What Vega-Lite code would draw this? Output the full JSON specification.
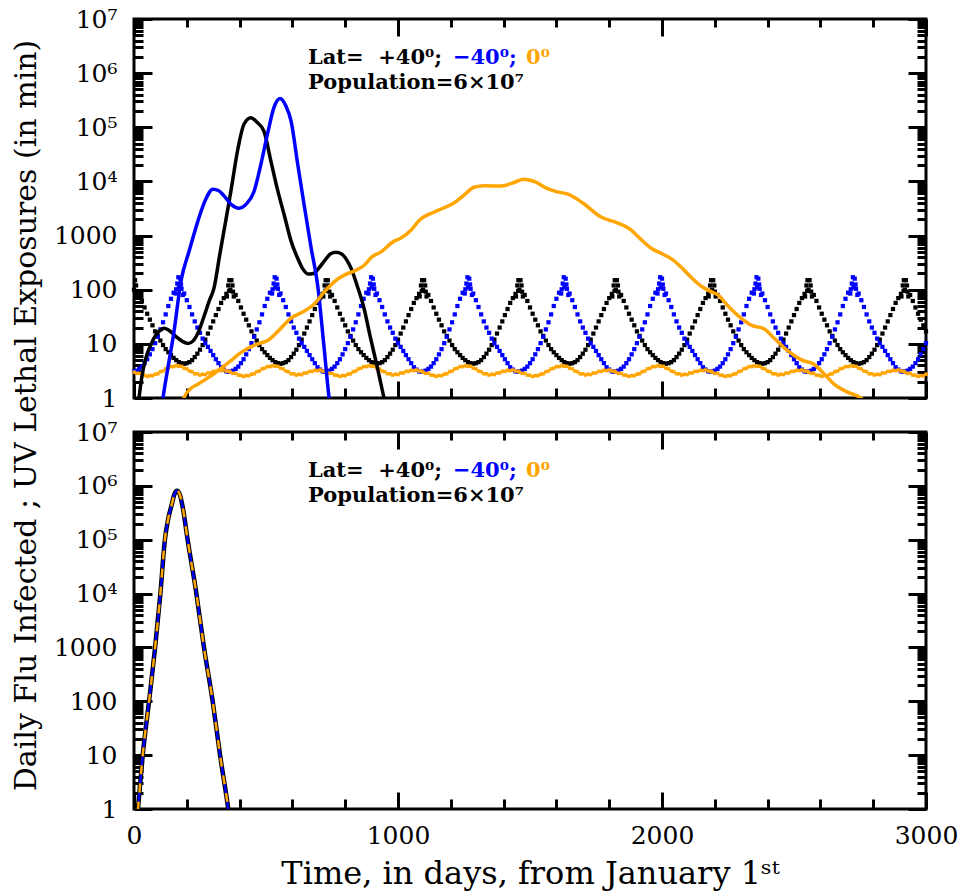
{
"$schema": "https://vega.github.io/schema/vega-lite/v6.json",
"background": "white",
"padding": {"left": 9, "top": 5, "right": 10, "bottom": 5},
"config": {"view": {"stroke": "#000000", "strokeWidth": 3}, "font": "DejaVu Serif", "axis": {"grid": false, "ticks": true, "zindex": 1, "domain": false, "tickColor": "#000000", "tickWidth": 3, "tickOpacity": 1, "title": null}},
"spacing": 34,
"bounds": "flush",
"datasets": {
"uv": [
{"t":0,"n":100,"s":3.1,"e":3.0},{"t":10,"n":92,"s":3.2,"e":2.85},{"t":20,"n":80,"s":3.45,"e":2.85},{"t":30,"n":62,"s":3.8,"e":2.65},{"t":40,"n":47,"s":4.4,"e":2.62},{"t":50,"n":36,"s":5.2,"e":2.5},{"t":60,"n":28,"s":6.4,"e":2.6},{"t":70,"n":22,"s":8,"e":2.58},{"t":80,"n":17,"s":10.3,"e":2.75},{"t":90,"n":14,"s":13.5,"e":2.8},{"t":100,"n":11.5,"s":18.5,"e":3.05},{"t":110,"n":9.5,"s":25,"e":3.15},{"t":120,"n":8,"s":35,"e":3.45},{"t":130,"n":7,"s":50,"e":3.55},{"t":140,"n":6.2,"s":68,"e":3.8},{"t":150,"n":5.5,"s":88,"e":3.8},{"t":160,"n":5,"s":102,"e":3.95},{"t":170,"n":4.6,"s":110,"e":3.85},{"t":180,"n":4.4,"s":104,"e":3.85},{"t":190,"n":4.3,"s":85,"e":3.55},{"t":200,"n":4.4,"s":64,"e":3.45},{"t":210,"n":4.6,"s":48,"e":3.15},{"t":220,"n":5,"s":35,"e":3.05},{"t":230,"n":5.7,"s":26,"e":2.8},{"t":240,"n":6.6,"s":20,"e":2.8},{"t":250,"n":7.8,"s":16,"e":2.65},{"t":260,"n":9.5,"s":12.5,"e":2.75},{"t":270,"n":12,"s":10.3,"e":2.7},{"t":280,"n":15.5,"s":8.8,"e":2.9},{"t":290,"n":20,"s":7.4,"e":2.9},{"t":300,"n":26,"s":6.2,"e":3.1},{"t":310,"n":34,"s":5.2,"e":3.1},{"t":320,"n":44,"s":4.4,"e":3.25},{"t":330,"n":57,"s":3.7,"e":3.2},{"t":340,"n":70,"s":3.35,"e":3.3},{"t":350,"n":84,"s":3.1,"e":3.15},{"t":360,"n":95,"s":3.05,"e":3.12},
{"t":365,"n":100,"s":3.1,"e":3.0},{"t":375,"n":92,"s":3.2,"e":2.85},{"t":385,"n":80,"s":3.45,"e":2.85},{"t":395,"n":62,"s":3.8,"e":2.65},{"t":405,"n":47,"s":4.4,"e":2.62},{"t":415,"n":36,"s":5.2,"e":2.5},{"t":425,"n":28,"s":6.4,"e":2.6},{"t":435,"n":22,"s":8,"e":2.58},{"t":445,"n":17,"s":10.3,"e":2.75},{"t":455,"n":14,"s":13.5,"e":2.8},{"t":465,"n":11.5,"s":18.5,"e":3.05},{"t":475,"n":9.5,"s":25,"e":3.15},{"t":485,"n":8,"s":35,"e":3.45},{"t":495,"n":7,"s":50,"e":3.55},{"t":505,"n":6.2,"s":68,"e":3.8},{"t":515,"n":5.5,"s":88,"e":3.8},{"t":525,"n":5,"s":102,"e":3.95},{"t":535,"n":4.6,"s":110,"e":3.85},{"t":545,"n":4.4,"s":104,"e":3.85},{"t":555,"n":4.3,"s":85,"e":3.55},{"t":565,"n":4.4,"s":64,"e":3.45},{"t":575,"n":4.6,"s":48,"e":3.15},{"t":585,"n":5,"s":35,"e":3.05},{"t":595,"n":5.7,"s":26,"e":2.8},{"t":605,"n":6.6,"s":20,"e":2.8},{"t":615,"n":7.8,"s":16,"e":2.65},{"t":625,"n":9.5,"s":12.5,"e":2.75},{"t":635,"n":12,"s":10.3,"e":2.7},{"t":645,"n":15.5,"s":8.8,"e":2.9},{"t":655,"n":20,"s":7.4,"e":2.9},{"t":665,"n":26,"s":6.2,"e":3.1},{"t":675,"n":34,"s":5.2,"e":3.1},{"t":685,"n":44,"s":4.4,"e":3.25},{"t":695,"n":57,"s":3.7,"e":3.2},{"t":705,"n":70,"s":3.35,"e":3.3},{"t":715,"n":84,"s":3.1,"e":3.15},{"t":725,"n":95,"s":3.05,"e":3.12},
{"t":730,"n":100,"s":3.1,"e":3.0},{"t":740,"n":92,"s":3.2,"e":2.85},{"t":750,"n":80,"s":3.45,"e":2.85},{"t":760,"n":62,"s":3.8,"e":2.65},{"t":770,"n":47,"s":4.4,"e":2.62},{"t":780,"n":36,"s":5.2,"e":2.5},{"t":790,"n":28,"s":6.4,"e":2.6},{"t":800,"n":22,"s":8,"e":2.58},{"t":810,"n":17,"s":10.3,"e":2.75},{"t":820,"n":14,"s":13.5,"e":2.8},{"t":830,"n":11.5,"s":18.5,"e":3.05},{"t":840,"n":9.5,"s":25,"e":3.15},{"t":850,"n":8,"s":35,"e":3.45},{"t":860,"n":7,"s":50,"e":3.55},{"t":870,"n":6.2,"s":68,"e":3.8},{"t":880,"n":5.5,"s":88,"e":3.8},{"t":890,"n":5,"s":102,"e":3.95},{"t":900,"n":4.6,"s":110,"e":3.85},{"t":910,"n":4.4,"s":104,"e":3.85},{"t":920,"n":4.3,"s":85,"e":3.55},{"t":930,"n":4.4,"s":64,"e":3.45},{"t":940,"n":4.6,"s":48,"e":3.15},{"t":950,"n":5,"s":35,"e":3.05},{"t":960,"n":5.7,"s":26,"e":2.8},{"t":970,"n":6.6,"s":20,"e":2.8},{"t":980,"n":7.8,"s":16,"e":2.65},{"t":990,"n":9.5,"s":12.5,"e":2.75},{"t":1000,"n":12,"s":10.3,"e":2.7},{"t":1010,"n":15.5,"s":8.8,"e":2.9},{"t":1020,"n":20,"s":7.4,"e":2.9},{"t":1030,"n":26,"s":6.2,"e":3.1},{"t":1040,"n":34,"s":5.2,"e":3.1},{"t":1050,"n":44,"s":4.4,"e":3.25},{"t":1060,"n":57,"s":3.7,"e":3.2},{"t":1070,"n":70,"s":3.35,"e":3.3},{"t":1080,"n":84,"s":3.1,"e":3.15},{"t":1090,"n":95,"s":3.05,"e":3.12},
{"t":1095,"n":100,"s":3.1,"e":3.0},{"t":1105,"n":92,"s":3.2,"e":2.85},{"t":1115,"n":80,"s":3.45,"e":2.85},{"t":1125,"n":62,"s":3.8,"e":2.65},{"t":1135,"n":47,"s":4.4,"e":2.62},{"t":1145,"n":36,"s":5.2,"e":2.5},{"t":1155,"n":28,"s":6.4,"e":2.6},{"t":1165,"n":22,"s":8,"e":2.58},{"t":1175,"n":17,"s":10.3,"e":2.75},{"t":1185,"n":14,"s":13.5,"e":2.8},{"t":1195,"n":11.5,"s":18.5,"e":3.05},{"t":1205,"n":9.5,"s":25,"e":3.15},{"t":1215,"n":8,"s":35,"e":3.45},{"t":1225,"n":7,"s":50,"e":3.55},{"t":1235,"n":6.2,"s":68,"e":3.8},{"t":1245,"n":5.5,"s":88,"e":3.8},{"t":1255,"n":5,"s":102,"e":3.95},{"t":1265,"n":4.6,"s":110,"e":3.85},{"t":1275,"n":4.4,"s":104,"e":3.85},{"t":1285,"n":4.3,"s":85,"e":3.55},{"t":1295,"n":4.4,"s":64,"e":3.45},{"t":1305,"n":4.6,"s":48,"e":3.15},{"t":1315,"n":5,"s":35,"e":3.05},{"t":1325,"n":5.7,"s":26,"e":2.8},{"t":1335,"n":6.6,"s":20,"e":2.8},{"t":1345,"n":7.8,"s":16,"e":2.65},{"t":1355,"n":9.5,"s":12.5,"e":2.75},{"t":1365,"n":12,"s":10.3,"e":2.7},{"t":1375,"n":15.5,"s":8.8,"e":2.9},{"t":1385,"n":20,"s":7.4,"e":2.9},{"t":1395,"n":26,"s":6.2,"e":3.1},{"t":1405,"n":34,"s":5.2,"e":3.1},{"t":1415,"n":44,"s":4.4,"e":3.25},{"t":1425,"n":57,"s":3.7,"e":3.2},{"t":1435,"n":70,"s":3.35,"e":3.3},{"t":1445,"n":84,"s":3.1,"e":3.15},{"t":1455,"n":95,"s":3.05,"e":3.12},
{"t":1460,"n":100,"s":3.1,"e":3.0},{"t":1470,"n":92,"s":3.2,"e":2.85},{"t":1480,"n":80,"s":3.45,"e":2.85},{"t":1490,"n":62,"s":3.8,"e":2.65},{"t":1500,"n":47,"s":4.4,"e":2.62},{"t":1510,"n":36,"s":5.2,"e":2.5},{"t":1520,"n":28,"s":6.4,"e":2.6},{"t":1530,"n":22,"s":8,"e":2.58},{"t":1540,"n":17,"s":10.3,"e":2.75},{"t":1550,"n":14,"s":13.5,"e":2.8},{"t":1560,"n":11.5,"s":18.5,"e":3.05},{"t":1570,"n":9.5,"s":25,"e":3.15},{"t":1580,"n":8,"s":35,"e":3.45},{"t":1590,"n":7,"s":50,"e":3.55},{"t":1600,"n":6.2,"s":68,"e":3.8},{"t":1610,"n":5.5,"s":88,"e":3.8},{"t":1620,"n":5,"s":102,"e":3.95},{"t":1630,"n":4.6,"s":110,"e":3.85},{"t":1640,"n":4.4,"s":104,"e":3.85},{"t":1650,"n":4.3,"s":85,"e":3.55},{"t":1660,"n":4.4,"s":64,"e":3.45},{"t":1670,"n":4.6,"s":48,"e":3.15},{"t":1680,"n":5,"s":35,"e":3.05},{"t":1690,"n":5.7,"s":26,"e":2.8},{"t":1700,"n":6.6,"s":20,"e":2.8},{"t":1710,"n":7.8,"s":16,"e":2.65},{"t":1720,"n":9.5,"s":12.5,"e":2.75},{"t":1730,"n":12,"s":10.3,"e":2.7},{"t":1740,"n":15.5,"s":8.8,"e":2.9},{"t":1750,"n":20,"s":7.4,"e":2.9},{"t":1760,"n":26,"s":6.2,"e":3.1},{"t":1770,"n":34,"s":5.2,"e":3.1},{"t":1780,"n":44,"s":4.4,"e":3.25},{"t":1790,"n":57,"s":3.7,"e":3.2},{"t":1800,"n":70,"s":3.35,"e":3.3},{"t":1810,"n":84,"s":3.1,"e":3.15},{"t":1820,"n":95,"s":3.05,"e":3.12},
{"t":1825,"n":100,"s":3.1,"e":3.0},{"t":1835,"n":92,"s":3.2,"e":2.85},{"t":1845,"n":80,"s":3.45,"e":2.85},{"t":1855,"n":62,"s":3.8,"e":2.65},{"t":1865,"n":47,"s":4.4,"e":2.62},{"t":1875,"n":36,"s":5.2,"e":2.5},{"t":1885,"n":28,"s":6.4,"e":2.6},{"t":1895,"n":22,"s":8,"e":2.58},{"t":1905,"n":17,"s":10.3,"e":2.75},{"t":1915,"n":14,"s":13.5,"e":2.8},{"t":1925,"n":11.5,"s":18.5,"e":3.05},{"t":1935,"n":9.5,"s":25,"e":3.15},{"t":1945,"n":8,"s":35,"e":3.45},{"t":1955,"n":7,"s":50,"e":3.55},{"t":1965,"n":6.2,"s":68,"e":3.8},{"t":1975,"n":5.5,"s":88,"e":3.8},{"t":1985,"n":5,"s":102,"e":3.95},{"t":1995,"n":4.6,"s":110,"e":3.85},{"t":2005,"n":4.4,"s":104,"e":3.85},{"t":2015,"n":4.3,"s":85,"e":3.55},{"t":2025,"n":4.4,"s":64,"e":3.45},{"t":2035,"n":4.6,"s":48,"e":3.15},{"t":2045,"n":5,"s":35,"e":3.05},{"t":2055,"n":5.7,"s":26,"e":2.8},{"t":2065,"n":6.6,"s":20,"e":2.8},{"t":2075,"n":7.8,"s":16,"e":2.65},{"t":2085,"n":9.5,"s":12.5,"e":2.75},{"t":2095,"n":12,"s":10.3,"e":2.7},{"t":2105,"n":15.5,"s":8.8,"e":2.9},{"t":2115,"n":20,"s":7.4,"e":2.9},{"t":2125,"n":26,"s":6.2,"e":3.1},{"t":2135,"n":34,"s":5.2,"e":3.1},{"t":2145,"n":44,"s":4.4,"e":3.25},{"t":2155,"n":57,"s":3.7,"e":3.2},{"t":2165,"n":70,"s":3.35,"e":3.3},{"t":2175,"n":84,"s":3.1,"e":3.15},{"t":2185,"n":95,"s":3.05,"e":3.12},
{"t":2190,"n":100,"s":3.1,"e":3.0},{"t":2200,"n":92,"s":3.2,"e":2.85},{"t":2210,"n":80,"s":3.45,"e":2.85},{"t":2220,"n":62,"s":3.8,"e":2.65},{"t":2230,"n":47,"s":4.4,"e":2.62},{"t":2240,"n":36,"s":5.2,"e":2.5},{"t":2250,"n":28,"s":6.4,"e":2.6},{"t":2260,"n":22,"s":8,"e":2.58},{"t":2270,"n":17,"s":10.3,"e":2.75},{"t":2280,"n":14,"s":13.5,"e":2.8},{"t":2290,"n":11.5,"s":18.5,"e":3.05},{"t":2300,"n":9.5,"s":25,"e":3.15},{"t":2310,"n":8,"s":35,"e":3.45},{"t":2320,"n":7,"s":50,"e":3.55},{"t":2330,"n":6.2,"s":68,"e":3.8},{"t":2340,"n":5.5,"s":88,"e":3.8},{"t":2350,"n":5,"s":102,"e":3.95},{"t":2360,"n":4.6,"s":110,"e":3.85},{"t":2370,"n":4.4,"s":104,"e":3.85},{"t":2380,"n":4.3,"s":85,"e":3.55},{"t":2390,"n":4.4,"s":64,"e":3.45},{"t":2400,"n":4.6,"s":48,"e":3.15},{"t":2410,"n":5,"s":35,"e":3.05},{"t":2420,"n":5.7,"s":26,"e":2.8},{"t":2430,"n":6.6,"s":20,"e":2.8},{"t":2440,"n":7.8,"s":16,"e":2.65},{"t":2450,"n":9.5,"s":12.5,"e":2.75},{"t":2460,"n":12,"s":10.3,"e":2.7},{"t":2470,"n":15.5,"s":8.8,"e":2.9},{"t":2480,"n":20,"s":7.4,"e":2.9},{"t":2490,"n":26,"s":6.2,"e":3.1},{"t":2500,"n":34,"s":5.2,"e":3.1},{"t":2510,"n":44,"s":4.4,"e":3.25},{"t":2520,"n":57,"s":3.7,"e":3.2},{"t":2530,"n":70,"s":3.35,"e":3.3},{"t":2540,"n":84,"s":3.1,"e":3.15},{"t":2550,"n":95,"s":3.05,"e":3.12},
{"t":2555,"n":100,"s":3.1,"e":3.0},{"t":2565,"n":92,"s":3.2,"e":2.85},{"t":2575,"n":80,"s":3.45,"e":2.85},{"t":2585,"n":62,"s":3.8,"e":2.65},{"t":2595,"n":47,"s":4.4,"e":2.62},{"t":2605,"n":36,"s":5.2,"e":2.5},{"t":2615,"n":28,"s":6.4,"e":2.6},{"t":2625,"n":22,"s":8,"e":2.58},{"t":2635,"n":17,"s":10.3,"e":2.75},{"t":2645,"n":14,"s":13.5,"e":2.8},{"t":2655,"n":11.5,"s":18.5,"e":3.05},{"t":2665,"n":9.5,"s":25,"e":3.15},{"t":2675,"n":8,"s":35,"e":3.45},{"t":2685,"n":7,"s":50,"e":3.55},{"t":2695,"n":6.2,"s":68,"e":3.8},{"t":2705,"n":5.5,"s":88,"e":3.8},{"t":2715,"n":5,"s":102,"e":3.95},{"t":2725,"n":4.6,"s":110,"e":3.85},{"t":2735,"n":4.4,"s":104,"e":3.85},{"t":2745,"n":4.3,"s":85,"e":3.55},{"t":2755,"n":4.4,"s":64,"e":3.45},{"t":2765,"n":4.6,"s":48,"e":3.15},{"t":2775,"n":5,"s":35,"e":3.05},{"t":2785,"n":5.7,"s":26,"e":2.8},{"t":2795,"n":6.6,"s":20,"e":2.8},{"t":2805,"n":7.8,"s":16,"e":2.65},{"t":2815,"n":9.5,"s":12.5,"e":2.75},{"t":2825,"n":12,"s":10.3,"e":2.7},{"t":2835,"n":15.5,"s":8.8,"e":2.9},{"t":2845,"n":20,"s":7.4,"e":2.9},{"t":2855,"n":26,"s":6.2,"e":3.1},{"t":2865,"n":34,"s":5.2,"e":3.1},{"t":2875,"n":44,"s":4.4,"e":3.25},{"t":2885,"n":57,"s":3.7,"e":3.2},{"t":2895,"n":70,"s":3.35,"e":3.3},{"t":2905,"n":84,"s":3.1,"e":3.15},{"t":2915,"n":95,"s":3.05,"e":3.12},
{"t":2920,"n":100,"s":3.1,"e":3.0},{"t":2930,"n":92,"s":3.2,"e":2.85},{"t":2940,"n":80,"s":3.45,"e":2.85},{"t":2950,"n":62,"s":3.8,"e":2.65},{"t":2960,"n":47,"s":4.4,"e":2.62},{"t":2970,"n":36,"s":5.2,"e":2.5},{"t":2980,"n":28,"s":6.4,"e":2.6},{"t":2990,"n":22,"s":8,"e":2.58},{"t":3000,"n":17,"s":10.3,"e":2.75},
{"t":4,"n":150},{"t":8,"n":120},{"t":13,"n":75},
{"t":352,"n":75},{"t":357,"n":120},{"t":361,"n":150},{"t":369,"n":150},{"t":373,"n":120},{"t":378,"n":75},
{"t":717,"n":75},{"t":722,"n":120},{"t":726,"n":150},{"t":734,"n":150},{"t":738,"n":120},{"t":743,"n":75},
{"t":1082,"n":75},{"t":1087,"n":120},{"t":1091,"n":150},{"t":1099,"n":150},{"t":1103,"n":120},{"t":1108,"n":75},
{"t":1447,"n":75},{"t":1452,"n":120},{"t":1456,"n":150},{"t":1464,"n":150},{"t":1468,"n":120},{"t":1473,"n":75},
{"t":1812,"n":75},{"t":1817,"n":120},{"t":1821,"n":150},{"t":1829,"n":150},{"t":1833,"n":120},{"t":1838,"n":75},
{"t":2177,"n":75},{"t":2182,"n":120},{"t":2186,"n":150},{"t":2194,"n":150},{"t":2198,"n":120},{"t":2203,"n":75},
{"t":2542,"n":75},{"t":2547,"n":120},{"t":2551,"n":150},{"t":2559,"n":150},{"t":2563,"n":120},{"t":2568,"n":75},
{"t":2907,"n":75},{"t":2912,"n":120},{"t":2916,"n":150},{"t":2924,"n":150},{"t":2928,"n":120},{"t":2933,"n":75},
{"t":158,"s":85},{"t":164,"s":130},{"t":168,"s":170},{"t":175,"s":160},{"t":178,"s":125},{"t":185,"s":80},
{"t":523,"s":85},{"t":529,"s":130},{"t":533,"s":170},{"t":540,"s":160},{"t":543,"s":125},{"t":550,"s":80},
{"t":888,"s":85},{"t":894,"s":130},{"t":898,"s":170},{"t":905,"s":160},{"t":908,"s":125},{"t":915,"s":80},
{"t":1253,"s":85},{"t":1259,"s":130},{"t":1263,"s":170},{"t":1270,"s":160},{"t":1273,"s":125},{"t":1280,"s":80},
{"t":1618,"s":85},{"t":1624,"s":130},{"t":1628,"s":170},{"t":1635,"s":160},{"t":1638,"s":125},{"t":1645,"s":80},
{"t":1983,"s":85},{"t":1989,"s":130},{"t":1993,"s":170},{"t":2000,"s":160},{"t":2003,"s":125},{"t":2010,"s":80},
{"t":2348,"s":85},{"t":2354,"s":130},{"t":2358,"s":170},{"t":2365,"s":160},{"t":2368,"s":125},{"t":2375,"s":80},
{"t":2713,"s":85},{"t":2719,"s":130},{"t":2723,"s":170},{"t":2730,"s":160},{"t":2733,"s":125},{"t":2740,"s":80}
],
"lines": [
{"t":10,"v":0.4,"c":"N"},{"t":19,"v":1,"c":"N"},{"t":30,"v":2.5,"c":"N"},{"t":45,"v":5.5,"c":"N"},{"t":65,"v":10,"c":"N"},{"t":85,"v":15,"c":"N"},{"t":100,"v":18,"c":"N"},{"t":114,"v":19.5,"c":"N"},{"t":135,"v":17.5,"c":"N"},{"t":160,"v":13.5,"c":"N"},{"t":185,"v":11,"c":"N"},{"t":205,"v":10.2,"c":"N"},{"t":225,"v":11.5,"c":"N"},{"t":245,"v":17,"c":"N"},{"t":265,"v":32,"c":"N"},{"t":285,"v":62,"c":"N"},{"t":303,"v":107,"c":"N"},{"t":325,"v":450,"c":"N"},{"t":345,"v":1600,"c":"N"},{"t":367,"v":6600,"c":"N"},{"t":394,"v":41000,"c":"N"},{"t":417,"v":115000,"c":"N"},{"t":443,"v":150000,"c":"N"},{"t":465,"v":125000,"c":"N"},{"t":492,"v":85000,"c":"N"},{"t":520,"v":22000,"c":"N"},{"t":545,"v":6600,"c":"N"},{"t":570,"v":2300,"c":"N"},{"t":595,"v":790,"c":"N"},{"t":620,"v":380,"c":"N"},{"t":640,"v":240,"c":"N"},{"t":659,"v":195,"c":"N"},{"t":680,"v":200,"c":"N"},{"t":700,"v":250,"c":"N"},{"t":725,"v":360,"c":"N"},{"t":745,"v":460,"c":"N"},{"t":765,"v":490,"c":"N"},{"t":785,"v":460,"c":"N"},{"t":805,"v":360,"c":"N"},{"t":822,"v":250,"c":"N"},{"t":845,"v":120,"c":"N"},{"t":871,"v":46,"c":"N"},{"t":895,"v":13.5,"c":"N"},{"t":920,"v":4,"c":"N"},{"t":947,"v":1,"c":"N"},{"t":960,"v":0.5,"c":"N"},
{"t":100,"v":0.4,"c":"S"},{"t":110,"v":1,"c":"S"},{"t":130,"v":4,"c":"S"},{"t":150,"v":15,"c":"S"},{"t":178,"v":145,"c":"S"},{"t":210,"v":540,"c":"S"},{"t":242,"v":1850,"c":"S"},{"t":270,"v":4500,"c":"S"},{"t":299,"v":7200,"c":"S"},{"t":320,"v":6800,"c":"S"},{"t":341,"v":5400,"c":"S"},{"t":370,"v":3700,"c":"S"},{"t":398,"v":3200,"c":"S"},{"t":425,"v":3800,"c":"S"},{"t":455,"v":6600,"c":"S"},{"t":480,"v":20000,"c":"S"},{"t":508,"v":85000,"c":"S"},{"t":530,"v":230000,"c":"S"},{"t":553,"v":340000,"c":"S"},{"t":575,"v":250000,"c":"S"},{"t":595,"v":130000,"c":"S"},{"t":620,"v":21000,"c":"S"},{"t":644,"v":3800,"c":"S"},{"t":670,"v":630,"c":"S"},{"t":697,"v":107,"c":"S"},{"t":720,"v":8.5,"c":"S"},{"t":739,"v":1,"c":"S"},{"t":750,"v":0.4,"c":"S"},
{"t":185,"v":0.8,"c":"E"},{"t":189,"v":1,"c":"E"},{"t":215,"v":1.5,"c":"E"},{"t":242,"v":1.8,"c":"E"},{"t":270,"v":2.2,"c":"E"},{"t":303,"v":2.8,"c":"E"},{"t":341,"v":3.9,"c":"E"},{"t":370,"v":5,"c":"E"},{"t":394,"v":6.3,"c":"E"},{"t":432,"v":8.3,"c":"E"},{"t":470,"v":10,"c":"E"},{"t":506,"v":11.5,"c":"E"},{"t":545,"v":17,"c":"E"},{"t":595,"v":30,"c":"E"},{"t":644,"v":40,"c":"E"},{"t":682,"v":54,"c":"E"},{"t":720,"v":90,"c":"E"},{"t":758,"v":140,"c":"E"},{"t":800,"v":190,"c":"E"},{"t":833,"v":220,"c":"E"},{"t":871,"v":280,"c":"E"},{"t":900,"v":400,"c":"E"},{"t":936,"v":500,"c":"E"},{"t":985,"v":790,"c":"E"},{"t":1011,"v":900,"c":"E"},{"t":1049,"v":1250,"c":"E"},{"t":1080,"v":1900,"c":"E"},{"t":1136,"v":2700,"c":"E"},{"t":1170,"v":3200,"c":"E"},{"t":1212,"v":4000,"c":"E"},{"t":1250,"v":5600,"c":"E"},{"t":1288,"v":7800,"c":"E"},{"t":1330,"v":8300,"c":"E"},{"t":1390,"v":8200,"c":"E"},{"t":1430,"v":9200,"c":"E"},{"t":1477,"v":11000,"c":"E"},{"t":1520,"v":9800,"c":"E"},{"t":1560,"v":7600,"c":"E"},{"t":1600,"v":6500,"c":"E"},{"t":1644,"v":5800,"c":"E"},{"t":1700,"v":4000,"c":"E"},{"t":1769,"v":2200,"c":"E"},{"t":1833,"v":1700,"c":"E"},{"t":1880,"v":1300,"c":"E"},{"t":1920,"v":850,"c":"E"},{"t":1958,"v":590,"c":"E"},{"t":2000,"v":460,"c":"E"},{"t":2040,"v":360,"c":"E"},{"t":2080,"v":240,"c":"E"},{"t":2110,"v":170,"c":"E"},{"t":2148,"v":117,"c":"E"},{"t":2180,"v":95,"c":"E"},{"t":2212,"v":80,"c":"E"},{"t":2250,"v":50,"c":"E"},{"t":2299,"v":30,"c":"E"},{"t":2340,"v":22,"c":"E"},{"t":2386,"v":19,"c":"E"},{"t":2430,"v":12,"c":"E"},{"t":2477,"v":7.4,"c":"E"},{"t":2530,"v":5,"c":"E"},{"t":2576,"v":4.2,"c":"E"},{"t":2620,"v":2.6,"c":"E"},{"t":2652,"v":1.8,"c":"E"},{"t":2700,"v":1.3,"c":"E"},{"t":2754,"v":1,"c":"E"},{"t":2770,"v":0.85,"c":"E"}
],
"flu": [
{"t":5,"v":0.3},{"t":15,"v":1},{"t":33,"v":10},{"t":57,"v":100},{"t":80,"v":1000},{"t":100,"v":10000},{"t":117,"v":100000},{"t":130,"v":250000},{"t":143,"v":450000},{"t":153,"v":700000},{"t":163,"v":810000},{"t":173,"v":700000},{"t":185,"v":390000},{"t":203,"v":100000},{"t":235,"v":11000},{"t":265,"v":1000},{"t":298,"v":100},{"t":326,"v":10},{"t":357,"v":1},{"t":365,"v":0.5}
],
"ann": [
{"x":659,"y":1480000,"txt":"Lat= \u00a0+40⁰;","c":"N"},{"x":1208,"y":1480000,"txt":"−40⁰;","c":"S"},{"x":1485,"y":1480000,"txt":"0⁰","c":"E"},{"x":659,"y":510000,"txt":"Population=6×10⁷","c":"N"}
]
},
"vconcat": [
{
"width": 792, "height": 379,
"resolve": {"axis": {"x": "independent", "y": "independent"}},
"layer": [
{"data": {"name": "uv"}, "mark": {"type": "square", "size": 18, "color": "#000000", "opacity": 1},
 "encoding": {
  "x": {"field": "t", "type": "quantitative", "scale": {"domain": [0, 3000], "nice": false, "zero": false},
   "axis": {"orient": "bottom", "values": [0,1000,2000,3000], "offset": -17, "tickSize": 17, "labels": false}},
  "y": {"field": "n", "type": "quantitative", "scale": {"type": "log", "domain": [1, 10000000], "nice": false},
   "axis": {"orient": "left", "values": [1,10,100,1000,10000,100000,1000000,10000000], "offset": -18, "tickSize": 18,
    "labelExpr": "datum.value == 1 ? '1' : datum.value == 10 ? '10' : datum.value == 100 ? '100' : datum.value == 1000 ? '1000' : datum.value == 10000 ? '10⁴' : datum.value == 100000 ? '10⁵' : datum.value == 1000000 ? '10⁶' : '10⁷'",
    "labelOverlap": false, "labelBound": false, "labelFlush": false, "labelFont": "DejaVu Serif", "labelFontSize": 25, "labelColor": "#000000", "labelPadding": 17, "labelBaseline": "middle",
    "title": "Daily Flu Infected ; UV Lethal Exposures (in min)", "titleFont": "DejaVu Serif", "titleFontSize": 30, "titleFontWeight": "normal", "titleColor": "#000000", "titleAngle": -90, "titleX": -117, "titleY": 396, "titleAlign": "center", "titleBaseline": "alphabetic"}}
 }},
{"data": {"name": "uv"}, "mark": {"type": "square", "size": 18, "color": "#0000ff", "opacity": 1},
 "encoding": {
  "x": {"field": "t", "type": "quantitative", "axis": {"orient": "top", "values": [0,1000,2000,3000], "offset": -17, "tickSize": 17, "labels": false}},
  "y": {"field": "s", "type": "quantitative", "axis": {"orient": "right", "values": [1,10,100,1000,10000,100000,1000000,10000000], "offset": -18, "tickSize": 18, "labels": false}}
 }},
{"data": {"name": "uv"}, "mark": {"type": "square", "size": 12, "color": "#ffa500", "opacity": 1},
 "encoding": {
  "x": {"field": "t", "type": "quantitative", "axis": {"orient": "bottom", "values": [200,400,600,800,1200,1400,1600,1800,2200,2400,2600,2800], "offset": -10, "tickSize": 10, "labels": false}},
  "y": {"field": "e", "type": "quantitative", "axis": {"orient": "left", "values": [2,3,4,5,6,7,8,9,20,30,40,50,60,70,80,90,200,300,400,500,600,700,800,900,2000,3000,4000,5000,6000,7000,8000,9000,20000,30000,40000,50000,60000,70000,80000,90000,200000,300000,400000,500000,600000,700000,800000,900000,2000000,3000000,4000000,5000000,6000000,7000000,8000000,9000000], "offset": -9, "tickSize": 9, "labels": false}}
 }},
{"data": {"name": "lines"}, "mark": {"type": "line", "strokeWidth": 3.5, "clip": true, "interpolate": "monotone"},
 "encoding": {
  "x": {"field": "t", "type": "quantitative", "axis": {"orient": "top", "values": [200,400,600,800,1200,1400,1600,1800,2200,2400,2600,2800], "offset": -8, "tickSize": 8, "labels": false}},
  "y": {"field": "v", "type": "quantitative", "axis": {"orient": "right", "values": [2,3,4,5,6,7,8,9,20,30,40,50,60,70,80,90,200,300,400,500,600,700,800,900,2000,3000,4000,5000,6000,7000,8000,9000,20000,30000,40000,50000,60000,70000,80000,90000,200000,300000,400000,500000,600000,700000,800000,900000,2000000,3000000,4000000,5000000,6000000,7000000,8000000,9000000], "offset": -9, "tickSize": 9, "labels": false}},
  "color": {"field": "c", "type": "nominal", "scale": {"domain": ["N", "S", "E"], "range": ["#000000", "#0000ff", "#ffa500"]}, "legend": null}}},
{"data": {"name": "ann"}, "mark": {"type": "text", "align": "left", "baseline": "alphabetic", "font": "DejaVu Serif", "fontSize": 21, "fontWeight": "bold"},
 "encoding": {"x": {"field": "x", "type": "quantitative", "axis": null}, "y": {"field": "y", "type": "quantitative", "axis": null}, "text": {"field": "txt"},
  "color": {"field": "c", "type": "nominal", "scale": {"domain": ["N", "S", "E"], "range": ["#000000", "#0000ff", "#ffa500"]}, "legend": null}}}
]
},
{
"width": 792, "height": 377,
"resolve": {"axis": {"x": "independent", "y": "independent"}},
"layer": [
{"data": {"name": "flu"}, "mark": {"type": "line", "strokeWidth": 4.5, "color": "#000000", "clip": true, "interpolate": "monotone"},
 "encoding": {
  "x": {"field": "t", "type": "quantitative", "scale": {"domain": [0, 3000], "nice": false, "zero": false},
   "axis": {"orient": "bottom", "values": [0,1000,2000,3000], "offset": -17, "tickSize": 17, "format": "d",
    "labelOverlap": false, "labelBound": false, "labelFlush": false, "labelFont": "DejaVu Serif", "labelFontSize": 25, "labelColor": "#000000", "labelPadding": 14, "labelBaseline": "top",
    "title": "Time, in days, from January 1ˢᵗ", "titleFont": "DejaVu Serif", "titleFontSize": 32, "titleFontWeight": "normal", "titleColor": "#000000", "titleX": 396, "titleY": 91, "titleAlign": "center", "titleBaseline": "alphabetic"}},
  "y": {"field": "v", "type": "quantitative", "scale": {"type": "log", "domain": [1, 10000000], "nice": false},
   "axis": {"orient": "left", "values": [1,10,100,1000,10000,100000,1000000,10000000], "offset": -18, "tickSize": 18,
    "labelExpr": "datum.value == 1 ? '1' : datum.value == 10 ? '10' : datum.value == 100 ? '100' : datum.value == 1000 ? '1000' : datum.value == 10000 ? '10⁴' : datum.value == 100000 ? '10⁵' : datum.value == 1000000 ? '10⁶' : '10⁷'",
    "labelOverlap": false, "labelBound": false, "labelFlush": false, "labelFont": "DejaVu Serif", "labelFontSize": 25, "labelColor": "#000000", "labelPadding": 17, "labelBaseline": "middle"}}
 }},
{"data": {"name": "flu"}, "mark": {"type": "line", "strokeWidth": 2.5, "color": "#0000ff", "strokeDash": [9, 9], "clip": true, "interpolate": "monotone"},
 "encoding": {
  "x": {"field": "t", "type": "quantitative", "axis": {"orient": "top", "values": [0,1000,2000,3000], "offset": -17, "tickSize": 17, "labels": false}},
  "y": {"field": "v", "type": "quantitative", "axis": {"orient": "right", "values": [1,10,100,1000,10000,100000,1000000,10000000], "offset": -18, "tickSize": 18, "labels": false}}
 }},
{"data": {"name": "flu"}, "mark": {"type": "line", "strokeWidth": 2.5, "color": "#ffa500", "strokeDash": [9, 9], "strokeDashOffset": 9, "clip": true, "interpolate": "monotone"},
 "encoding": {
  "x": {"field": "t", "type": "quantitative", "axis": {"orient": "bottom", "values": [200,400,600,800,1200,1400,1600,1800,2200,2400,2600,2800], "offset": -10, "tickSize": 10, "labels": false}},
  "y": {"field": "v", "type": "quantitative", "axis": {"orient": "left", "values": [2,3,4,5,6,7,8,9,20,30,40,50,60,70,80,90,200,300,400,500,600,700,800,900,2000,3000,4000,5000,6000,7000,8000,9000,20000,30000,40000,50000,60000,70000,80000,90000,200000,300000,400000,500000,600000,700000,800000,900000,2000000,3000000,4000000,5000000,6000000,7000000,8000000,9000000], "offset": -9, "tickSize": 9, "labels": false}}
 }},
{"data": {"name": "ann"}, "mark": {"type": "text", "align": "left", "baseline": "alphabetic", "font": "DejaVu Serif", "fontSize": 21, "fontWeight": "bold"},
 "encoding": {
  "x": {"field": "x", "type": "quantitative", "axis": {"orient": "top", "values": [200,400,600,800,1200,1400,1600,1800,2200,2400,2600,2800], "offset": -8, "tickSize": 8, "labels": false}},
  "y": {"field": "y", "type": "quantitative", "axis": {"orient": "right", "values": [2,3,4,5,6,7,8,9,20,30,40,50,60,70,80,90,200,300,400,500,600,700,800,900,2000,3000,4000,5000,6000,7000,8000,9000,20000,30000,40000,50000,60000,70000,80000,90000,200000,300000,400000,500000,600000,700000,800000,900000,2000000,3000000,4000000,5000000,6000000,7000000,8000000,9000000], "offset": -9, "tickSize": 9, "labels": false}},
  "text": {"field": "txt"},
  "color": {"field": "c", "type": "nominal", "scale": {"domain": ["N", "S", "E"], "range": ["#000000", "#0000ff", "#ffa500"]}, "legend": null}}}
]
}
]
}
